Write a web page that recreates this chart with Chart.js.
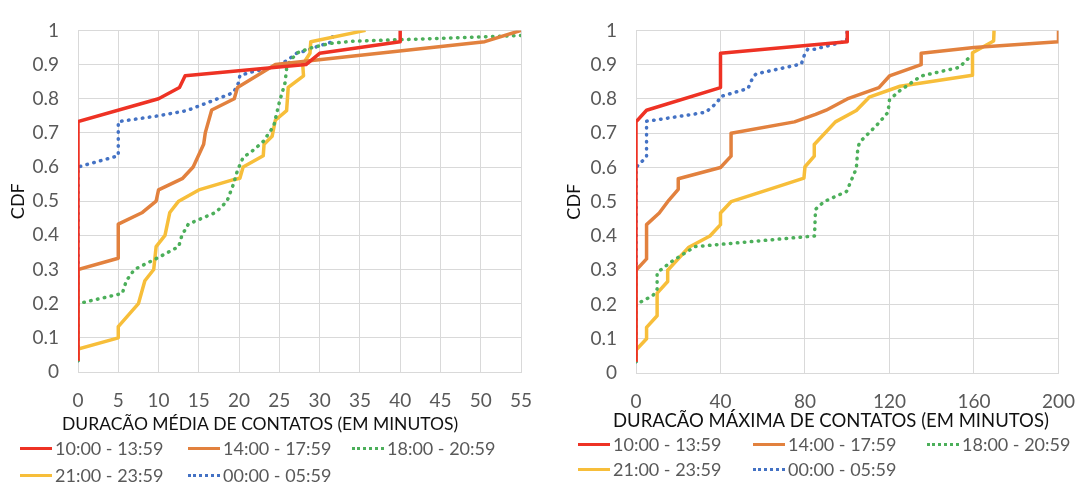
<!DOCTYPE html>
<html>
<head>
<meta charset="utf-8">
<script src="https://cdn.jsdelivr.net/npm/chart.js@4.4.0/dist/chart.umd.min.js"></script>
<style>
  body { margin: 0; background: #fff; font-family: Lato, sans-serif; }
  #page { position: relative; width: 1092px; height: 486px; overflow: hidden; }
  canvas { position: absolute; top: 0; }
  #media { left: 0; }
  #maxima { left: 556px; }
  .legend-item { position: absolute; height: 24px; display: flex; align-items: center; color: #595959; font-size: 18px; white-space: nowrap; }
  .legend-line { display: inline-block; width: 32px; height: 0; margin-right: 3px; }
</style>
</head>
<body>
<div id="page">
  <canvas id="media" width="550" height="437"></canvas>
  <canvas id="maxima" width="536" height="434"></canvas>
</div>
<script>
// Series labels
const seriesLabels = ['10:00 - 13:59', '14:00 - 17:59', '18:00 - 20:59', '21:00 - 23:59', '00:00 - 05:59'];

// Tick labels
const mediaXTicks = [0, 5, 10, 15, 20, 25, 30, 35, 40, 45, 50, 55];
const maximaXTicks = [0, 40, 80, 120, 160, 200];
const cdfTicks = [0, 0.1, 0.2, 0.3, 0.4, 0.5, 0.6, 0.7, 0.8, 0.9, 1];

// Duração média (minutos) -> CDF
const mediaX1013 = [0, 0, 10, 12.6, 13.3, 28.3, 30, 40, 40];
const mediaY1013 = [0.033, 0.733, 0.8, 0.833, 0.867, 0.9, 0.933, 0.967, 1];
const mediaX1417 = [0, 0, 5, 5, 8, 9.7, 10, 13, 14.3, 15.6, 15.8, 16.6, 19.4, 19.8, 24.5, 50.5, 55];
const mediaY1417 = [0.033, 0.3, 0.333, 0.433, 0.467, 0.5, 0.533, 0.567, 0.6, 0.667, 0.7, 0.767, 0.8, 0.833, 0.9, 0.967, 1];
const mediaX1820 = [0, 0, 5.5, 6, 7, 9.8, 12.5, 12.9, 13.7, 17.1, 18.5, 19.3, 19.8, 20.5, 21.8, 23, 24.3, 25, 25.7, 25.9, 26.3, 27.2, 28.8, 31.3, 34, 55];
const mediaY1820 = [0.033, 0.2, 0.23, 0.267, 0.3, 0.333, 0.367, 0.4, 0.433, 0.467, 0.5, 0.55, 0.59, 0.628, 0.65, 0.675, 0.72, 0.79, 0.846, 0.888, 0.91, 0.934, 0.948, 0.962, 0.968, 0.985];
const mediaX2123 = [0, 0, 5, 5, 7.5, 8.3, 9.4, 9.7, 10.8, 11.4, 12.5, 15, 19.3, 20.1, 20.5, 23, 23.1, 24.1, 24.5, 25.9, 26.1, 28, 27.9, 28.8, 28.9, 35.7];
const mediaY2123 = [0.033, 0.067, 0.1, 0.133, 0.2, 0.267, 0.3, 0.367, 0.4, 0.467, 0.5, 0.533, 0.563, 0.567, 0.6, 0.633, 0.667, 0.69, 0.737, 0.765, 0.833, 0.867, 0.9, 0.933, 0.967, 1];
const mediaX0005 = [0, 0, 5, 5, 10, 13.5, 15.6, 18, 19.3, 19.9, 20.1, 21.8, 23.4, 24.7, 25.9, 27.2, 28.4, 29.7, 31.5, 31.7];
const mediaY0005 = [0.033, 0.6, 0.633, 0.733, 0.75, 0.765, 0.784, 0.806, 0.818, 0.845, 0.868, 0.88, 0.887, 0.897, 0.911, 0.934, 0.941, 0.953, 0.966, 1];

// Duração máxima (minutos) -> CDF
const maximaX1013 = [0, 0, 5, 40, 40, 100, 100];
const maximaY1013 = [0.033, 0.733, 0.767, 0.833, 0.933, 0.967, 1];
const maximaX1417 = [0, 0, 5, 5, 11, 15, 20, 20, 40, 45, 45, 75, 85, 90, 100, 115, 120, 135, 135, 160, 200, 200];
const maximaY1417 = [0.033, 0.3, 0.333, 0.433, 0.467, 0.5, 0.536, 0.567, 0.6, 0.633, 0.7, 0.733, 0.755, 0.767, 0.8, 0.833, 0.867, 0.9, 0.933, 0.95, 0.967, 1];
const maximaX1820 = [0, 0, 8, 10, 10, 17, 28, 84.5, 85, 89, 99.7, 104.3, 105, 105.8, 115, 119.3, 120, 124.2, 135, 153, 158.6];
const maximaY1820 = [0.033, 0.2, 0.226, 0.245, 0.293, 0.326, 0.369, 0.4, 0.478, 0.5, 0.53, 0.597, 0.655, 0.673, 0.73, 0.761, 0.797, 0.821, 0.867, 0.892, 0.926];
const maximaX2123 = [0, 0, 5, 5, 10, 10, 15, 15, 25, 35, 40, 40, 45, 66, 79.5, 80, 84.4, 84.4, 94.4, 104.3, 110.4, 125, 159.3, 159.3, 169.3, 169.5];
const maximaY2123 = [0.033, 0.067, 0.1, 0.133, 0.167, 0.233, 0.267, 0.3, 0.367, 0.4, 0.433, 0.467, 0.5, 0.542, 0.569, 0.602, 0.633, 0.667, 0.733, 0.766, 0.805, 0.837, 0.869, 0.935, 0.969, 1];
const maximaX0005 = [0, 0, 5, 5, 11, 33, 36.2, 38.5, 40, 47.7, 53, 55.4, 56.9, 78.3, 79.8, 81.3, 84.4, 99.7, 100];
const maximaY0005 = [0.033, 0.6, 0.631, 0.735, 0.74, 0.761, 0.778, 0.79, 0.807, 0.821, 0.83, 0.864, 0.873, 0.902, 0.93, 0.945, 0.945, 0.969, 1];

const colors = ['#EE3224', '#E2813E', '#4CAF5A', '#F7BE3A', '#4472C4'];
const dotted = [false, false, true, false, true];

function pts(xs, ys) {
    return xs.map((x, i) => ({ x: x, y: ys[i] }));
}

function makeDatasets(seriesX, seriesY) {
    return seriesLabels.map((label, i) => ({
        label: label,
        data: pts(seriesX[i], seriesY[i]),
        showLine: true,
        borderColor: colors[i],
        backgroundColor: colors[i],
        borderWidth: 3.5,
        borderDash: dotted[i] ? [0.5, 6.5] : [],
        borderCapStyle: dotted[i] ? 'round' : 'butt',
        borderJoinStyle: 'round',
        pointRadius: 0,
        tension: 0
    }));
}

// x axis title, drawn a bit left of the plot area like the Excel original
const xTitlePlugin = {
    id: 'xTitle',
    afterDraw(chart, args, opts) {
        const ctx = chart.ctx;
        ctx.save();
        ctx.fillStyle = '#111';
        ctx.font = `${opts.size}px Lato`;
        ctx.textAlign = 'left';
        ctx.textBaseline = 'middle';
        ctx.fillText(opts.text, chart.chartArea.left + opts.shift, opts.y);
        ctx.restore();
    }
};

function makeChart(id, datasets, xTicks, xMax, opts) {
    const ctx = document.getElementById(id).getContext('2d');
    return new Chart(ctx, {
        type: 'scatter',
        data: { datasets: datasets },
        plugins: [xTitlePlugin],
        options: {
            responsive: false,
            animation: false,
            layout: { padding: { top: opts.top, right: opts.right, left: 0, bottom: 0 } },
            plugins: {
                legend: { display: false },
                tooltip: { enabled: false },
                xTitle: opts.title
            },
            scales: {
                x: {
                    type: 'linear',
                    min: 0,
                    max: xMax,
                    afterBuildTicks: s => { s.ticks = xTicks.map(v => ({ value: v })); },
                    afterFit: s => { s.height = opts.xHeight; },
                    grid: { color: '#d9d9d9', lineWidth: 1, drawTicks: false },
                    border: { color: '#d9d9d9' },
                    ticks: { color: '#595959', padding: 17, font: { family: 'Lato', size: 19 } }
                },
                y: {
                    type: 'linear',
                    min: 0,
                    max: 1,
                    afterBuildTicks: s => { s.ticks = cdfTicks.map(v => ({ value: v })); },
                    afterFit: s => { s.width = opts.yWidth; },
                    grid: { color: '#d9d9d9', lineWidth: 1, drawTicks: false },
                    border: { color: '#d9d9d9' },
                    ticks: { color: '#595959', padding: 19, font: { family: 'Lato', size: 19 }, callback: v => String(v) },
                    title: {
                        display: true,
                        text: 'CDF',
                        color: '#111',
                        padding: { top: 7, bottom: 0 },
                        font: { family: 'Lato', size: 18 }
                    }
                }
            }
        }
    });
}

makeChart('media',
    makeDatasets([mediaX1013, mediaX1417, mediaX1820, mediaX2123, mediaX0005],
                 [mediaY1013, mediaY1417, mediaY1820, mediaY2123, mediaY0005]),
    mediaXTicks, 55,
    { top: 18, right: 29, yWidth: 78, xHeight: 65,
      title: { text: 'DURACÃO MÉDIA DE CONTATOS (EM MINUTOS)', size: 17.5, shift: -16, y: 424 } });

makeChart('maxima',
    makeDatasets([maximaX1013, maximaX1417, maximaX1820, maximaX2123, maximaX0005],
                 [maximaY1013, maximaY1417, maximaY1820, maximaY2123, maximaY0005]),
    maximaXTicks, 200,
    { top: 22, right: 20, yWidth: 80, xHeight: 61,
      title: { text: 'DURACÃO MÁXIMA DE CONTATOS (EM MINUTOS)', size: 18.5, shift: -23, y: 421 } });

// Legends (three per row, like the original)
function buildLegend(cols, rows) {
    const page = document.getElementById('page');
    seriesLabels.forEach((label, i) => {
        const item = document.createElement('div');
        item.className = 'legend-item';
        item.style.left = cols[i % 3] + 'px';
        item.style.top = (rows[Math.floor(i / 3)] - 12) + 'px';
        const border = dotted[i] ? `3.5px dotted ${colors[i]}` : `3.5px solid ${colors[i]}`;
        item.innerHTML = `<span class="legend-line" style="border-top:${border}"></span>${label}`;
        page.appendChild(item);
    });
}

buildLegend([20, 188, 352], [448, 475]);
buildLegend([578, 753, 927], [444, 469]);
</script>
</body>
</html>
